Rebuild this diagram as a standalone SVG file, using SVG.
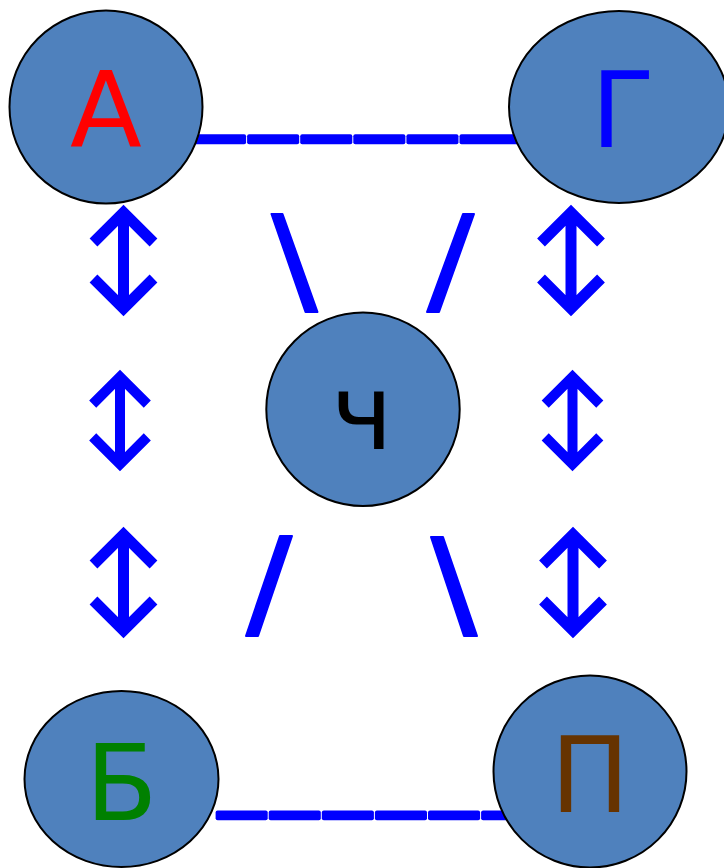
<svg xmlns="http://www.w3.org/2000/svg" xmlns:xlink="http://www.w3.org/1999/xlink" width="724" height="868" viewBox="0 0 724 868">
<style>
.node{fill:#4F81BD;stroke:#000;stroke-width:2}
.lbl{font-family:"DejaVu Sans","Liberation Sans",sans-serif;font-size:105px;text-anchor:middle}
.dash{fill:#0000FF}
.slash{fill:#0000FF;stroke:#0000FF;stroke-width:2;stroke-linejoin:round}
.arr{fill:none;stroke:#0000FF;stroke-width:11;stroke-linejoin:miter;stroke-linecap:butt}
</style>
<defs>
<g id="dblarrow">
<path class="arr" d="M0,-48 V48 M-30,-18 L0,-48 L30,-18 M-30,18 L0,48 L30,18"/>
</g>
</defs>
<rect width="724" height="868" fill="#FFFFFF"/>
<g id="connectors">
<g id="line-top">
<rect class="dash" x="194" y="134.3" width="52.1" height="10" rx="2"/>
<rect class="dash" x="247.1" y="134.3" width="52.1" height="10" rx="2"/>
<rect class="dash" x="300.2" y="134.3" width="52.1" height="10" rx="2"/>
<rect class="dash" x="353.3" y="134.3" width="52.1" height="10" rx="2"/>
<rect class="dash" x="406.4" y="134.3" width="52.1" height="10" rx="2"/>
<rect class="dash" x="459.5" y="134.3" width="60" height="10" rx="2"/>
</g>
<g id="line-bottom">
<rect class="dash" x="215.6" y="810.6" width="52.1" height="9.6" rx="2"/>
<rect class="dash" x="268.7" y="810.6" width="52.1" height="9.6" rx="2"/>
<rect class="dash" x="321.8" y="810.6" width="52.1" height="9.6" rx="2"/>
<rect class="dash" x="374.9" y="810.6" width="52.1" height="9.6" rx="2"/>
<rect class="dash" x="428" y="810.6" width="52.1" height="9.6" rx="2"/>
<rect class="dash" x="481.1" y="810.6" width="52.1" height="9.6" rx="2"/>
</g>
<g id="slashes">
<polygon class="slash" points="271.5,214 282.5,214 317.5,312 305.5,312"/>
<polygon class="slash" points="463,214 474,214 439,312 427,312"/>
<polygon class="slash" points="280,536 292,536 258,636 246,636"/>
<polygon class="slash" points="431,537 443,537 477,636 464,636"/>
</g>
<g id="arrows">
<use xlink:href="#dblarrow" href="#dblarrow" transform="translate(123.5,260.5)"/>
<use xlink:href="#dblarrow" href="#dblarrow" transform="translate(120,420.5) scale(0.91)"/>
<use xlink:href="#dblarrow" href="#dblarrow" transform="translate(123.5,582.5)"/>
<use xlink:href="#dblarrow" href="#dblarrow" transform="translate(571,260.5)"/>
<use xlink:href="#dblarrow" href="#dblarrow" transform="translate(572.5,420.5) scale(0.91)"/>
<use xlink:href="#dblarrow" href="#dblarrow" transform="translate(573,582.5)"/>
</g>
</g>
<g id="node-A">
<ellipse class="node" cx="106" cy="107" rx="96.5" ry="96.5"/>
<text class="lbl" x="106" y="147" fill="#FF0000">А</text>
</g>
<g id="node-G">
<ellipse class="node" cx="619" cy="107" rx="110" ry="96"/>
<text class="lbl" x="623" y="147" fill="#0000FF">Г</text>
</g>
<g id="node-Ch">
<ellipse class="node" cx="363" cy="409.3" rx="96.7" ry="96.7"/>
<text class="lbl" x="362" y="449" fill="#000000">ч</text>
</g>
<g id="node-B">
<ellipse class="node" cx="121.5" cy="779" rx="97" ry="88"/>
<text class="lbl" x="121.5" y="820" fill="#008000">Б</text>
</g>
<g id="node-P">
<ellipse class="node" cx="590" cy="771.5" rx="96.5" ry="96"/>
<text class="lbl" x="590" y="812" fill="#663300">П</text>
</g>
</svg>
